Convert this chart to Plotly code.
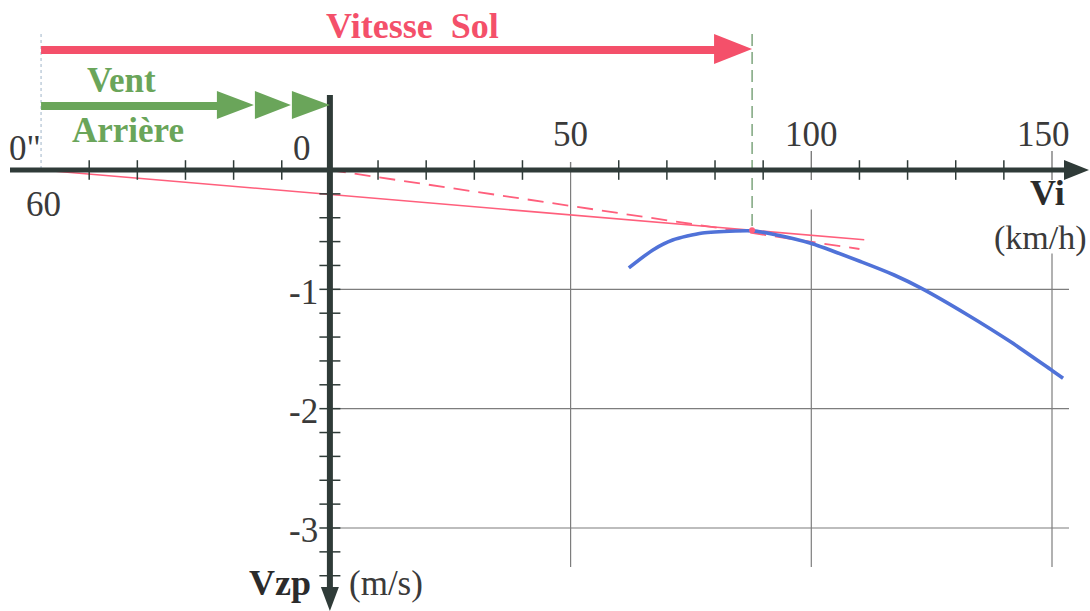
import plotly.graph_objects as go

# ---------------- data ----------------
polar_vi = [62.1, 67.1, 71.2, 77.4, 84.2, 87.7, 91.8, 99.7, 110.4, 117.2, 122.8, 132.5, 141.4, 150.0, 152.3]
polar_vz = [-0.82, -0.67, -0.587, -0.528, -0.511, -0.51, -0.536, -0.612, -0.77, -0.88, -0.99, -1.215, -1.44, -1.68, -1.745]

wind_speed = -60          # tailwind origin (km/h)
tangent_vi = 87.7         # best speed with tailwind
tangent_vz = -0.505

red_solid_x = [-60, 111]
red_solid_y = [0, -0.585]
red_dash_x = [0, 110]
red_dash_y = [0, -0.662]

x_major = [50, 100, 150]
x_major_labels = ["50", "100", "150"]
grid_x_top = [0, -0.33, -0.70]
x_minor = [-50, -40, -30, -20, -10, 10, 20, 30, 40, 60, 70, 80, 90, 110, 120, 130, 140]
y_major = [-1, -2, -3]
y_major_labels = ["-1", "-2", "-3"]
y_minor = [-0.2, -0.4, -0.6, -0.8, -1.0, -1.2, -1.4, -1.6, -1.8, -2.0, -2.2, -2.4, -2.6, -2.8,
           -3.0, -3.2, -3.4]

# ---------------- styles / geometry ----------------
W, H = 1090, 611
X0PX, XSCALE = 329.9, 4.814      # px of Vi=0, px per km/h
Y0PX, YSCALE = 170.0, 119.33     # px of Vz=0, px per m/s

def dx(p):
    return (p - X0PX) / XSCALE

def dy(p):
    return (Y0PX - p) / YSCALE

AX = "#2f3b38"
RED = "#f4506a"
RED_L = "#ff5f7c"
GREEN = "#6aa55a"
BLUE = "#5072d8"
GRID = "#7d7d7d"
TXT = "#3a3a3a"
FONT = "Liberation Serif"

fig = go.Figure()

shapes = []
# grid lines
for gx, top in zip(x_major, grid_x_top):
    shapes.append(dict(type="line", xref="x", yref="y", x0=gx, x1=gx, y0=top, y1=dy(567),
                       line=dict(color=GRID, width=1.2), layer="below"))
for gy in y_major:
    shapes.append(dict(type="line", xref="x", yref="y", x0=0, x1=dx(1069), y0=gy, y1=gy,
                       line=dict(color=GRID, width=1.2), layer="below"))
# major x ticks above axis (100, 150)
for gx in x_major[1:]:
    shapes.append(dict(type="line", xref="x", yref="y", x0=gx, x1=gx, y0=dy(151), y1=dy(180),
                       line=dict(color=GRID, width=1.4)))
shapes.append(dict(type="line", xref="x", yref="y", x0=50, x1=50, y0=dy(162), y1=0,
                   line=dict(color=GRID, width=1.4)))

# vertical guides
shapes.append(dict(type="line", xref="x", yref="y", x0=tangent_vi, x1=tangent_vi, y0=dy(34), y1=tangent_vz,
                   line=dict(color="#5d8f5d", width=1.2, dash="12px,6px")))
shapes.append(dict(type="line", xref="x", yref="y", x0=wind_speed, x1=wind_speed, y0=dy(34), y1=0,
                   line=dict(color="#9fb4c8", width=1, dash="3px,3px")))

# axes
shapes.append(dict(type="line", xref="x", yref="y", x0=dx(10), x1=dx(1068), y0=0, y1=0,
                   line=dict(color=AX, width=5)))
shapes.append(dict(type="path", xref="x", yref="y", xsizemode="pixel", ysizemode="pixel",
                   xanchor=dx(1089), yanchor=0, path="M0,0 L-25,10 L-25,-10 Z",
                   fillcolor=AX, line=dict(width=0)))
shapes.append(dict(type="line", xref="x", yref="y", x0=0, x1=0, y0=dy(95), y1=dy(592),
                   line=dict(color=AX, width=6)))
shapes.append(dict(type="path", xref="x", yref="y", xsizemode="pixel", ysizemode="pixel",
                   xanchor=0, yanchor=dy(611), path="M0,0 L-9,24 L9,24 Z",
                   fillcolor=AX, line=dict(width=0)))

# Vitesse Sol arrow
shapes.append(dict(type="line", xref="x", yref="y", x0=wind_speed, x1=tangent_vi - 30 / XSCALE,
                   y0=dy(50), y1=dy(50), line=dict(color=RED, width=8)))
shapes.append(dict(type="path", xref="x", yref="y", xsizemode="pixel", ysizemode="pixel",
                   xanchor=tangent_vi, yanchor=dy(49), path="M0,0 L-38,15 L-38,-15 Z",
                   fillcolor=RED, line=dict(width=0)))

# Vent arrière arrow
shapes.append(dict(type="line", xref="x", yref="y", x0=wind_speed, x1=-100 / XSCALE,
                   y0=dy(106), y1=dy(106), line=dict(color=GREEN, width=8)))
shapes.append(dict(type="path", xref="x", yref="y", xsizemode="pixel", ysizemode="pixel",
                   xanchor=0, yanchor=dy(105),
                   path="M0,0 L-38,14 L-38,-14 Z M-39,0 L-75,14 L-75,-14 Z M-76,0 L-113,14 L-113,-14 Z",
                   fillcolor=GREEN, line=dict(width=0)))

# traces
fig.add_trace(go.Scatter(x=red_solid_x, y=red_solid_y, mode="lines",
                         line=dict(color=RED_L, width=1.6), hoverinfo="skip"))
fig.add_trace(go.Scatter(x=red_dash_x, y=red_dash_y, mode="lines",
                         line=dict(color=RED_L, width=1.8, dash="16px,9px"), hoverinfo="skip"))
fig.add_trace(go.Scatter(x=polar_vi, y=polar_vz, mode="lines",
                         line=dict(color=BLUE, width=3.6, shape="spline", smoothing=0.7), hoverinfo="skip"))
fig.add_trace(go.Scatter(x=[tangent_vi], y=[tangent_vz], mode="markers",
                         marker=dict(color=RED_L, size=6), hoverinfo="skip"))
fig.add_trace(go.Scatter(x=x_minor, y=[0] * len(x_minor), mode="markers",
                         marker=dict(symbol="line-ns", size=14, line=dict(color=AX, width=1.5)),
                         hoverinfo="skip"))
fig.add_trace(go.Scatter(x=[0] * len(y_minor), y=y_minor, mode="markers",
                         marker=dict(symbol="line-ew", size=15, line=dict(color=AX, width=1.5)),
                         hoverinfo="skip"))

ann = []
def label(text, x, y, size=35, color=TXT, xshift=0, yshift=0):
    ann.append(dict(text=text, x=x, y=y, xref="x", yref="y", showarrow=False,
                    xanchor="center", yanchor="middle", xshift=xshift, yshift=yshift,
                    font=dict(family=FONT, size=size, color=color)))

for v, t in zip(x_major, x_major_labels):
    label(t, v, 0, xshift=(-9 if v == 150 else 0), yshift=36)
for v, t in zip(y_major, y_major_labels):
    label(t, 0, v, xshift=-26, yshift=-3)
label("0", 0, 0, xshift=-28, yshift=22)
label('0"', wind_speed, 0, xshift=-16, yshift=22)
label("60", wind_speed, 0, xshift=2, yshift=-34)

label("<b>Vi</b>", dx(1047), dy(193), size=36, color="#2b2b2b")
label("(km/h)", dx(1040), dy(238), size=34)
label("<b>Vzp</b>", dx(280), dy(583), size=36, color="#2b2b2b")
label("(m/s)", dx(386), dy(583), size=35)
label("<b>Vitesse  Sol</b>", dx(412), dy(26), size=36, color=RED)
label("<b>Vent</b>", dx(121), dy(80), size=35, color=GREEN)
label("<b>Arrière</b>", dx(128), dy(130), size=35, color=GREEN)

fig.update_layout(
    width=W, height=H, margin=dict(l=0, r=0, t=0, b=0),
    paper_bgcolor="white", plot_bgcolor="white", showlegend=False,
    xaxis=dict(range=[dx(0), dx(W)], visible=False, fixedrange=True),
    yaxis=dict(range=[dy(H), dy(0)], visible=False, fixedrange=True),
    shapes=shapes, annotations=ann,
)

fig.write_html("out.html")
